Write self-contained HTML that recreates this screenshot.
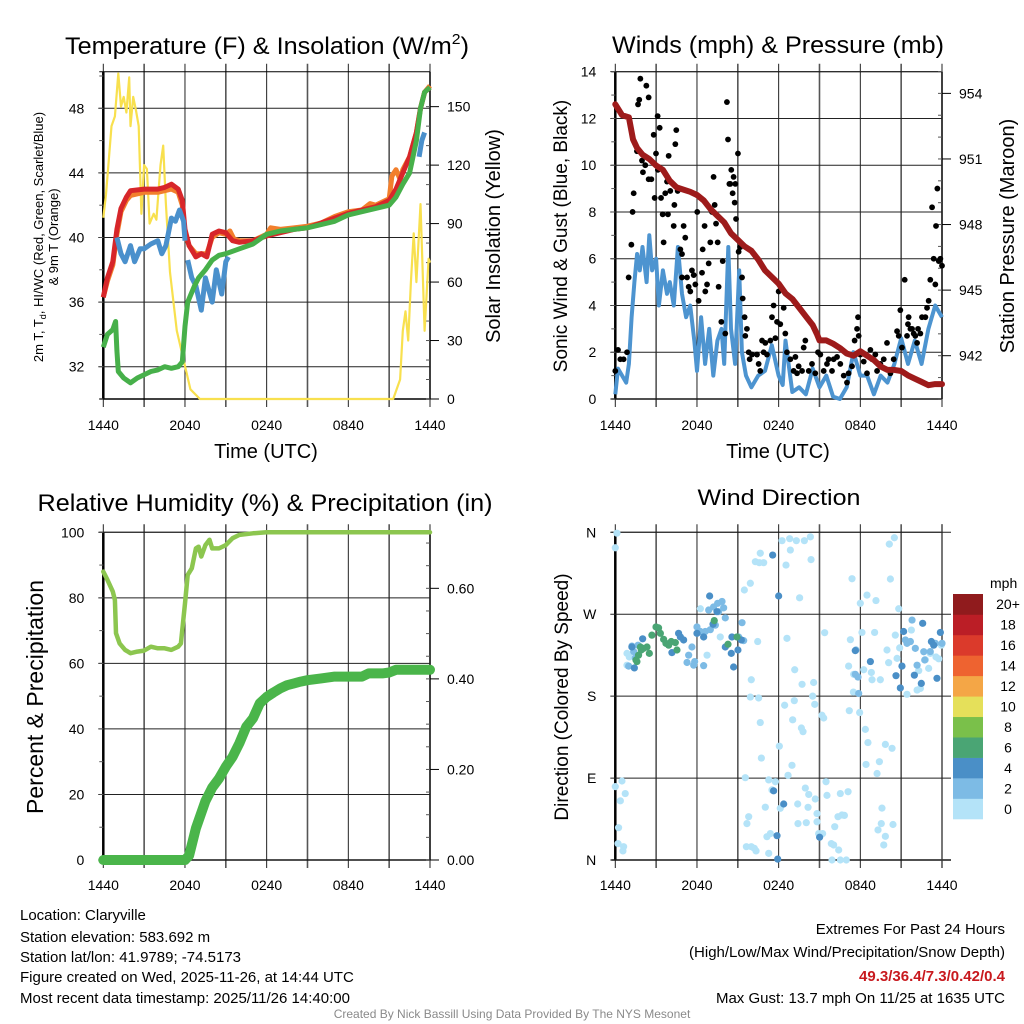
<!DOCTYPE html>
<html><head><meta charset="utf-8"><style>
html,body{margin:0;padding:0;background:#fff}
svg{display:block;font-family:"Liberation Sans",sans-serif}
</style></head><body>
<svg id="root" width="1024" height="1024" viewBox="0 0 1024 1024">
<rect width="1024" height="1024" fill="#fff"/>
<g id="g1"></g>
<g id="g2"></g>
<g id="g3"></g>
<g id="g4"></g>
<text x="267" y="54" font-size="24" text-anchor="middle" textLength="404" lengthAdjust="spacingAndGlyphs">Temperature (F) &amp; Insolation (W/m<tspan font-size="15" dy="-10">2</tspan><tspan dy="10">)</tspan></text>
<text x="778" y="53" font-size="24" text-anchor="middle" textLength="332" lengthAdjust="spacingAndGlyphs">Winds (mph) &amp; Pressure (mb)</text>
<text x="265" y="511" font-size="24" text-anchor="middle" textLength="455" lengthAdjust="spacingAndGlyphs">Relative Humidity (%) &amp; Precipitation (in)</text>
<text x="779" y="505" font-size="22" text-anchor="middle" textLength="163" lengthAdjust="spacingAndGlyphs">Wind Direction</text>
<g font-size="15">
<text x="20" y="920">Location: Claryville</text>
<text x="20" y="942">Station elevation: 583.692 m</text>
<text x="20" y="962">Station lat/lon: 41.9789; -74.5173</text>
<text x="20" y="982">Figure created on Wed, 2025-11-26, at 14:44 UTC</text>
<text x="20" y="1003">Most recent data timestamp: 2025/11/26 14:40:00</text>
</g>
<g font-size="15" text-anchor="end">
<text x="1005" y="934">Extremes For Past 24 Hours</text>
<text x="1005" y="957">(High/Low/Max Wind/Precipitation/Snow Depth)</text>
<text x="1005" y="981" font-weight="bold" fill="#c8191e">49.3/36.4/7.3/0.42/0.4</text>
<text x="1005" y="1003">Max Gust: 13.7 mph On 11/25 at 1635 UTC</text>
</g>
<text x="512" y="1018" font-size="12" fill="#8a8a8a" text-anchor="middle">Created By Nick Bassill Using Data Provided By The NYS Mesonet</text>
</svg>
<script>
// ---------- DATA ----------
const xTickLabels = ["1440","2040","0240","0840","1440"];
// Panel 1
const redH = [0,0.3,0.7,1,1.3,1.7,2,3,4,4.5,5,5.5,5.8,6,6.3,6.8,7.2,7.6,8,8.5,9,9.5,10,11,12,13,14,15,16,17,18,19,20,21,21.5,22,22.5,23,23.3,23.6,24];
const redT = [36.3,37.5,38.5,40.5,41.8,42.5,42.9,43.0,43.0,43.1,43.3,43.0,42.3,40.5,39.5,38.8,39.0,38.8,40.2,40.4,40.3,39.8,39.7,39.8,40.1,40.3,40.5,40.6,40.9,41.2,41.5,41.7,41.9,42.3,43.0,44.0,45.0,46.5,48.0,49.0,49.3];
const orangeH = [0,0.3,0.7,1,1.3,1.7,2,3,4,5,5.5,5.8,6,6.3,6.8,7.6,8,8.5,9,9.3,9.6,10,11,12,12.3,13,14,15,16,17,18,19,19.6,20,21,21.2,21.5,21.8,22,22.5,23,23.3,23.6,24];
const orangeT = [36.3,37.3,38.3,40.2,41.6,42.3,42.6,42.8,42.8,43.0,42.8,42.0,40.3,39.5,39.0,39.0,40.0,40.3,40.2,40.4,39.9,39.8,39.8,40.2,40.6,40.5,40.6,40.7,40.9,41.3,41.6,41.7,42.1,42.0,42.4,43.8,44.2,43.6,44.2,45.0,46.5,48.0,49.0,49.4];
const blueH = [1,1.3,1.6,2,2.3,2.7,3,3.5,4,4.3,4.6,5,5.3,5.6,5.9,6.0,null,6.2,6.5,6.8,7.2,7.5,8,8.3,8.7,9,9.2,null,23.2,23.4,23.6];
const blueT = [40.0,39.0,38.5,39.5,38.5,39.3,39.3,39.6,39.8,39.0,39.5,41.2,41.0,41.7,41.0,39.8,null,38.6,37.5,37.0,35.5,37.5,36.0,38.0,36.5,38.5,38.8,null,45.0,46.0,46.5];
const dewH = [0,0.3,0.7,0.9,1,1.1,1.5,2,2.5,3,3.5,4,4.5,5,5.5,5.8,6,6.2,6.7,7,7.5,8,8.5,9,10,11,12,13,14,15,16,17,18,19,20,21,21.5,22,22.5,23,23.3,23.6,24];
const dewT = [33.2,34.0,34.3,34.8,33.0,31.7,31.3,31.0,31.3,31.5,31.7,31.8,32.0,31.9,32.0,32.3,34.5,36.0,37.0,37.5,38.0,38.6,38.9,39.0,39.3,39.6,40.2,40.4,40.5,40.6,40.8,41.0,41.4,41.6,41.8,42.0,42.5,43.3,44.0,46.0,48.0,49.0,49.3];
const solH = [0,0.2,0.4,0.6,0.85,1.1,1.3,1.5,1.7,1.9,2.0,2.2,2.4,2.6,2.8,3.0,3.2,3.4,3.7,3.9,4.2,4.4,4.6,4.9,5.4,5.9,6.4,7.1,21.3,21.8,22.0,22.2,22.4,22.6,22.8,23.0,23.3,23.6,23.9,24];
const solV = [93,105,122,140,145,167,150,155,147,165,140,155,148,140,95,120,118,90,95,92,120,130,100,65,35,20,5,0,0,10,35,45,30,60,85,60,100,35,72,70];
// Panel 2
const windH = [0,0.2,0.5,0.8,1.0,1.2,1.4,1.6,1.8,2.0,2.3,2.5,2.7,3.0,3.2,3.5,3.8,4.0,4.3,4.6,4.9,5.2,5.5,5.8,6.0,6.3,6.6,6.9,7.2,7.5,7.8,8.0,8.3,8.5,8.8,9.1,9.3,9.6,10,10.5,11,11.5,12,12.3,12.5,13,13.5,14,14.5,15,15.5,16,16.5,17,17.5,18,18.5,19,19.5,20,20.5,21,21.5,22,22.5,23,23.5,24];
const windV = [0.2,1.3,1.0,0.7,1.5,3.5,5.0,6.2,5.5,6.5,5.0,7.0,5.5,6.0,4.0,5.5,4.5,5.0,4.0,6.5,4.5,3.5,4.0,2.5,1.2,3.5,1.5,3.0,1.0,2.5,3.0,1.5,6.5,3.0,1.5,5.5,2.0,1.0,0.5,1.0,1.2,2.3,1.0,0.6,2.5,0.3,0.5,0.2,1.3,0.5,1.0,0.1,0.0,0.5,2.0,1.0,1.0,0.2,1.0,0.7,1.5,2.6,1.5,2.5,1.5,3.0,4.0,3.5];
const gustH = [0,0.2,0.37,0.61,0.86,0.98,1.18,1.27,1.35,1.67,1.76,1.84,2.28,2.45,1.59,1.96,2.03,2.2,2.45,2.65,2.82,2.99,3.11,3.26,3.13,2.89,3.36,3.48,3.67,3.87,3.55,3.8,4.04,3.92,4.41,4.48,4.34,4.29,4.58,4.78,4.9,5.02,5.14,4.9,5.27,5.39,5.51,5.63,5.76,5.88,6.02,6.12,6.37,6.42,6.56,6.61,6.74,6.86,6.98,7.1,7.22,7.3,7.4,7.52,7.59,7.79,7.89,8.08,8.2,8.28,8.38,8.45,8.52,8.62,8.69,8.77,8.82,8.87,9.01,9.06,9.18,9.31,9.36,9.5,9.67,9.55,9.8,9.87,10.04,10.41,10.53,10.65,10.78,11.02,10.9,11.14,11.39,11.51,11.63,11.76,11.88,12.0,12.12,12.37,12.49,12.61,12.86,13.1,13.23,13.35,13.47,13.72,13.84,13.96,14.21,14.45,14.69,14.89,15.06,15.31,15.55,15.67,15.92,16.04,16.29,16.53,16.78,17.02,17.14,17.39,17.58,17.76,17.83,17.88,18.0,18.25,18.49,18.74,18.86,19.1,19.23,19.47,19.72,19.96,20.21,20.45,20.7,20.82,20.94,21.06,21.26,21.43,21.5,21.55,21.68,21.8,21.92,22.04,22.17,22.24,22.41,22.53,22.78,22.9,23.02,23.14,23.27,23.39,23.51,23.56,23.66,23.76,23.88,24.0];
const gustV = [1.2,2.1,1.7,1.7,2.0,5.2,6.6,8.0,8.8,12.6,12.8,13.7,13.4,12.9,10.6,10.2,9.7,10.0,9.4,9.4,11.3,10.5,12.1,11.6,9.8,8.6,8.6,7.9,8.8,7.9,6.7,9.3,8.9,10.4,10.9,11.5,8.3,7.4,8.9,6.4,6.2,7.4,6.9,5.2,5.2,4.8,4.6,5.5,5.3,4.9,8.0,4.2,5.4,6.4,7.4,4.6,4.9,5.8,6.7,8.0,9.5,8.3,7.5,6.7,4.8,3.3,5.9,2.8,12.7,11.1,9.2,9.2,9.8,8.8,9.5,8.4,9.2,7.7,10.5,6.3,6.5,5.2,4.3,3.5,3.0,2.7,2.0,1.7,1.9,1.9,1.5,1.2,2.5,2.4,2.0,1.9,2.5,3.5,4.0,2.6,3.3,4.6,3.2,3.9,2.8,2.0,1.7,1.2,1.8,1.1,1.4,1.2,2.2,2.5,1.2,1.5,1.1,2.0,1.9,1.2,1.5,1.7,1.2,1.7,1.8,1.5,1.0,0.7,1.1,1.4,2.5,3.0,3.5,2.7,1.9,1.6,1.1,2.1,1.7,1.9,1.2,1.5,1.7,2.4,1.1,1.7,2.9,2.7,3.8,2.2,5.1,2.7,3.2,3.5,3.0,3.0,2.8,2.7,2.4,3.0,2.8,3.5,3.5,3.9,4.2,5.1,8.2,6.0,4.9,7.4,9.0,5.9,6.0,5.7];
const presH = [0,0.5,1,1.3,1.6,2,2.5,3,3.5,4,4.5,5,5.5,6,6.5,7,7.5,8,8.5,9,9.5,10,10.5,11,11.5,12,12.5,13,13.5,14,14.5,14.8,15,15.5,16,16.5,17,17.5,18,18.5,19,19.5,20,20.5,21,21.5,22,22.5,23,23.5,24];
const presV = [953.5,953.0,952.9,951.9,951.5,951.2,951.0,950.7,950.5,950.0,949.7,949.6,949.5,949.35,949.1,948.7,948.4,948.1,947.6,947.3,947.0,946.8,946.4,945.9,945.6,945.3,944.85,944.6,944.2,943.8,943.4,943.0,942.7,942.7,942.55,942.35,942.1,942.0,942.2,942.0,941.8,941.5,941.35,941.35,941.3,941.1,940.95,940.8,940.65,940.7,940.7];
// Panel 3
const rhH = [0,0.3,0.7,0.85,0.93,1.2,1.6,2,2.5,3,3.5,4,4.5,5,5.5,5.7,6,6.2,6.5,6.8,7.0,7.2,7.5,7.8,8,8.5,9,9.5,10,11,12,24];
const rhV = [88,85.5,81.9,79.3,69.2,66.1,64.1,63.1,63.6,63.9,65.1,64.6,64.6,64.1,65.1,66.1,78.3,87.0,89,95.1,95.6,92.6,96.1,97.7,95.1,95.1,96.1,98.2,99.2,99.7,100,100];
const prH = [0,6,6.3,6.8,7.5,8,8.5,9,9.5,10,10.5,11,11.5,12,12.5,13,13.5,14,14.5,15,16,17,18,19,19.5,20.5,21,21.5,24];
const prV = [0,0,0.01,0.07,0.13,0.16,0.18,0.206,0.228,0.258,0.294,0.313,0.346,0.36,0.37,0.379,0.386,0.39,0.394,0.397,0.401,0.405,0.405,0.405,0.412,0.412,0.414,0.42,0.42];
// Panel 4
const dirH = [0.12,0,0,0.49,0.73,0.37,0.24,0.2,0.61,0.56,0.86,1.03,0.86,6.25,6.74,7.71,10.46,9.99,9.92,10.53,10.65,10.73,9.55,9.8,9.67,9.63,9.99,10.21,10.34,11.27,11.14,11.02,11.27,11.51,11.39,11.76,12.12,12.05,12.44,12.69,12.98,13.03,13.15,13.18,13.4,13.42,13.67,13.79,13.72,13.96,14.03,14.16,14.21,14.5,14.57,14.65,14.69,14.82,14.82,14.94,15.23,15.18,15.31,15.48,15.55,15.87,15.92,16.04,16.12,16.36,16.41,16.53,16.65,16.83,16.97,17.1,16.53,17.19,17.27,17.39,17.14,17.51,17.49,17.95,18.0,18.12,18.25,18.37,18.49,18.56,18.42,18.81,18.86,19.05,19.15,19.23,19.4,19.3,19.47,19.59,19.54,19.84,19.72,19.84,20.33,20.4,19.96,20.08,20.13,20.21,20.5,20.57,20.7,20.82,20.89,21.43,21.75,22.17,22.41,22.29,23.02,23.14,23.56,23.95,23.76,22.78,10.9,10.29,10.58,9.92,9.48,10.65,12.25,12.81,13.3,13.89,14.33,14.38,12.86,12.54,13.54,15.38,12.61,
1.22,1.35,0.98,1.47,1.67,5.63,5.83,6.49,5.39,5.27,5.76,6.61,6.86,6.98,7.22,7.52,7.84,7.96,8.08,7.59,6.0,6.25,7.35,9.31,9.06,9.43,17.68,17.63,17.83,17.88,21.31,21.43,21.68,22.04,22.17,22.73,23.14,23.51,24,22.66,21.8,
1.4,2.01,1.22,4.16,4.65,4.78,5.02,6.0,6.49,6.93,7.47,7.18,8.08,8.52,8.69,9.01,8.57,9.26,11.56,12.0,11.63,12.37,11.88,11.93,15.01,18.74,20.94,21.06,20.62,21.97,22.48,22.58,23.22,23.39,23.63,23.88,21.18,17.63,
1.59,1.71,1.91,2.08,2.33,2.5,2.69,2.99,3.18,3.31,3.55,3.72,3.92,4.11,4.41,4.53,1.52,1.84,7.27,8.28,8.94];
const dirDeg = [359,343,80.6,86.8,73,65,35.5,18,14.6,10,227,223,214,276,225,245,240,198,179,178,151,112,90.4,47.6,40,14.6,14.6,12.8,10,7.3,25.6,58,88,77,29,86,56.8,125,170,93,104,154,175,209,61.5,40,145,141,193,79,41,57.9,72,180,195,171,67,51,42,29,29,159,156,86,71,18,0,16.5,36.6,47.6,11,0,49.4,49,0,75,73,164,242,309,213,204,184.5,162,282,250,209,143.5,291,129,105,206,198,250,285,95,108,33,198,57,40,26,16.5,127,122.7,39,230.7,216.8,347,308.7,354,247,221.5,276,233,182,252.6,186.7,188.5,208,210.5,227,223,236,221,220,326.6,327.7,326.6,304,296.6,337,350.8,353,350.8,350.8,355,330,340.5,324,288,249.7,243.5,
235,229,213,222,236,234,218,213.5,225,217,214,251,274.6,253,278,282,284,277,266,272.8,256,251,258,260.7,245,241,230.7,204,201,183,241.7,238,240,232.5,214,219.7,229,238,238,228.8,263.6,
211,243,234,227.8,249,245,241.7,249,245,290,272.8,259,234,227,212,230.7,245,241.7,335,290,76,61.5,26.7,1,25,218,189,213,202.5,203,194,260,240,236,199.6,250,251,230,
218,225,230.7,232.5,234,227,247,256,255,249,242.4,238,236,240,238.8,230.7,219.7,234,263,237,245];
const dirSpd = [].concat(Array(143).fill(1),Array(41).fill(3),Array(38).fill(5),Array(21).fill(7));
const cbLabels = ["0","2","4","6","8","10","12","14","16","18","20+"];
const cbColors = ["#b4e3f8","#7dbbe5","#4a8fc7","#4aa574","#7ac04a","#e5e05a","#f4a646","#ee6330","#db3a2b","#bb1e26","#901b1d"];

// ---------- HELPERS ----------
const NS="http://www.w3.org/2000/svg";
function mk(parent,tag,attrs,text){const e=document.createElementNS(NS,tag);for(const k in attrs)e.setAttribute(k,attrs[k]);if(text!==undefined)e.textContent=text;parent.appendChild(e);return e;}
function linePath(hs,vs,xf,yf){let d="",pen=false;for(let i=0;i<hs.length;i++){if(hs[i]===null||vs[i]===null){pen=false;continue;}d+=(pen?"L":"M")+xf(hs[i]).toFixed(1)+","+yf(vs[i]).toFixed(1);pen=true;}return d;}
function frame(g,x0,x1,yT,yB,opts){
  // vertical grid every 3h
  for(let h=0;h<=24;h+=3){const x=x0+h/24*(x1-x0);const l=mk(g,"line",{x1:x,x2:x,y1:yT-8,y2:yB+8,stroke:(h%6===3)?"#555":"#222","stroke-width":(h%6===3)?1.6:1});
    
    }
  for(let i=0;i<5;i++){const x=x0+i*6/24*(x1-x0);const t=mk(g,"text",{x:x,y:opts.xly,"font-size":14,"text-anchor":"middle"},xTickLabels[i]);
    
    }
  mk(g,"line",{x1:x0,x2:x0,y1:yT,y2:yB,stroke:"#000","stroke-width":2.5});
  mk(g,"line",{x1:x0-4,x2:x1,y1:yT,y2:yT,stroke:"#000","stroke-width":1});
  mk(g,"line",{x1:x0-4,x2:x1+(opts.noRight?9:0),y1:yB,y2:yB,stroke:"#000","stroke-width":1.5});
  if(!opts.noRight) mk(g,"line",{x1:x1,x2:x1,y1:yT,y2:yB,stroke:"#000","stroke-width":1.5});
}
function leftAxis(g,x0,x1,vals,labels,yf,minors,grid){
  vals.forEach((v,i)=>{const y=yf(v);if(grid){const l=mk(g,"line",{x1:x0-5,x2:x1+(grid===2?9:0),y1:y,y2:y,stroke:"#222","stroke-width":1});
    
    }
    const t=mk(g,"text",{x:x0-19,y:y+5,"font-size":14,"text-anchor":"end"},labels[i]);
    
    });
  minors.forEach(v=>{const y=yf(v);mk(g,"line",{x1:x0-4,x2:x0,y1:y,y2:y,stroke:"#555","stroke-width":1});});
}
function rightAxis(g,x1,vals,labels,yf,minors){
  vals.forEach((v,i)=>{const y=yf(v);mk(g,"line",{x1:x1,x2:x1+9,y1:y,y2:y,stroke:"#000","stroke-width":1});
    const t=mk(g,"text",{x:x1+17,y:y+5,"font-size":14},labels[i]);
    
    });
  minors.forEach(v=>{const y=yf(v);mk(g,"line",{x1:x1,x2:x1-4,y1:y,y2:y,stroke:"#555","stroke-width":1});});
}
function rng(a,b,s){const r=[];for(let v=a;v<=b+1e-9;v+=s)r.push(+v.toFixed(3));return r;}

// ---------- PANEL 1 ----------
(function(){
  const g=document.getElementById("g1");const x0=103.3,x1=430,yT=71.7,yB=399;
  const xf=h=>x0+h/24*(x1-x0), yt=t=>366.7-(t-32)*16.15, ys=v=>399-v*1.949;
  frame(g,x0,x1,yT,yB,{xly:430});
  leftAxis(g,x0,x1,[32,36,40,44,48],["32","36","40","44","48"],yt,rng(30,50,2),true);
  rightAxis(g,x1,[0,30,60,90,120,150],["0","30","60","90","120","150"],ys,rng(0,160,10));
  const sol=mk(g,"path",{d:linePath(solH,solV,xf,ys),fill:"none",stroke:"#f8e04e","stroke-width":2.2,"stroke-linejoin":"round"});
  
  
  const o=mk(g,"path",{d:linePath(orangeH,orangeT,xf,yt),fill:"none",stroke:"#f27f2c","stroke-width":5,"stroke-linejoin":"round"});
  
  
  const r=mk(g,"path",{d:linePath(redH,redT,xf,yt),fill:"none",stroke:"#d7262a","stroke-width":5,"stroke-linejoin":"round"});
  
  
  const b=mk(g,"path",{d:linePath(blueH,blueT,xf,yt),fill:"none",stroke:"#4a90cc","stroke-width":5,"stroke-linejoin":"round"});
  
  
  const d=mk(g,"path",{d:linePath(dewH,dewT,xf,yt),fill:"none",stroke:"#47b04a","stroke-width":5,"stroke-linejoin":"round"});
  
  
  const t1=mk(g,"text",{x:0,y:0,"font-size":13,"text-anchor":"middle",transform:"translate(43,237) rotate(-90)"},"2m T, T");
  mk(t1,"tspan",{"font-size":9,dy:3},"d");
  mk(t1,"tspan",{dy:-3},", HI/WC (Red, Green, Scarlet/Blue)");
  
  
  const t2=mk(g,"text",{x:0,y:0,"font-size":13,"text-anchor":"middle",transform:"translate(58,237) rotate(-90)"},"& 9m T (Orange)");
  
  
  const t3=mk(g,"text",{x:0,y:0,"font-size":20,"text-anchor":"middle",transform:"translate(500,236) rotate(-90)"},"Solar Insolation (Yellow)");
  
  
  const t4=mk(g,"text",{x:266,y:458,"font-size":20,"text-anchor":"middle"},"Time (UTC)");
  
  
})();

// ---------- PANEL 2 ----------
(function(){
  const g=document.getElementById("g2");const x0=615.3,x1=942,yT=71.7,yB=399;
  const xf=h=>x0+h/24*(x1-x0), yw=v=>399-v*23.38, yp=p=>355.7-(p-942)*21.86;
  frame(g,x0,x1,yT,yB,{xly:430});
  leftAxis(g,x0,x1,[0,2,4,6,8,10,12,14],["0","2","4","6","8","10","12","14"],yw,rng(0,14,1),true);
  rightAxis(g,x1,[942,945,948,951,954],["942","945","948","951","954"],yp,rng(940,955,1));
  const w=mk(g,"path",{d:linePath(windH,windV,xf,yw),fill:"none",stroke:"#4d94d0","stroke-width":4,"stroke-linejoin":"round"});
  
  
  for(let i=0;i<gustH.length;i++){
    const c=mk(g,"circle",{cx:xf(gustH[i]),cy:yw(gustV[i]),r:2.9,fill:"#000"});
    
    
  }
  const p=mk(g,"path",{d:linePath(presH,presV,xf,yp),fill:"none",stroke:"#9e1b1b","stroke-width":6,"stroke-linejoin":"round","stroke-linecap":"round"});
  
  
  const t1=mk(g,"text",{x:0,y:0,"font-size":19,"text-anchor":"middle",transform:"translate(567,236) rotate(-90)"},"Sonic Wind & Gust (Blue, Black)");
  
  
  const t2=mk(g,"text",{x:0,y:0,"font-size":20,"text-anchor":"middle",transform:"translate(1014,236) rotate(-90)"},"Station Pressure (Maroon)");
  
  
  const t3=mk(g,"text",{x:778,y:458,"font-size":20,"text-anchor":"middle"},"Time (UTC)");
  
  
})();

// ---------- PANEL 3 ----------
(function(){
  const g=document.getElementById("g3");const x0=103.3,x1=430,yT=532.3,yB=860;
  const xf=h=>x0+h/24*(x1-x0), yr=v=>860-v*3.277, yq=v=>860-v*452.8;
  frame(g,x0,x1,yT,yB,{xly:890});
  leftAxis(g,x0,x1,[0,20,40,60,80,100],["0","20","40","60","80","100"],yr,rng(0,100,10),true);
  rightAxis(g,x1,[0,0.2,0.4,0.6],["0.00","0.20","0.40","0.60"],yq,rng(0,0.7,0.05));
  const rh=mk(g,"path",{d:linePath(rhH,rhV,xf,yr),fill:"none",stroke:"#8cc64f","stroke-width":4.5,"stroke-linejoin":"round","stroke-linecap":"round"});
  
  
  const pr=mk(g,"path",{d:linePath(prH,prV,xf,yq),fill:"none",stroke:"#4ab54a","stroke-width":10,"stroke-linejoin":"round","stroke-linecap":"round"});
  
  
  const t=mk(g,"text",{x:0,y:0,"font-size":23,"text-anchor":"middle",transform:"translate(43,697) rotate(-90)"},"Percent & Precipitation");
  
  
})();

// ---------- PANEL 4 ----------
(function(){
  const g=document.getElementById("g4");const x0=615.3,x1=942,yT=532.3,yB=860;
  const xf=h=>x0+h/24*(x1-x0), yd=d=>860-d*0.9103;
  frame(g,x0,x1,yT,yB,{xly:890,noRight:true});
  mk(g,"line",{x1:x1,x2:x1,y1:yT-8,y2:yB+8,stroke:"#555","stroke-width":1.6});
  leftAxis(g,x0,x1,[0,90,180,270,360],["N","E","S","W","N"],yd,[],2);
  const cols={1:"#b4e3f8",3:"#7dbbe5",5:"#4a8fc7",7:"#4aa574"};
  for(let i=0;i<dirH.length;i++){
    const c=mk(g,"circle",{cx:xf(dirH[i]),cy:yd(dirDeg[i]),r:3.6,fill:cols[dirSpd[i]]});
    
    
  }
  const t=mk(g,"text",{x:0,y:0,"font-size":19,"text-anchor":"middle",transform:"translate(568,697) rotate(-90)"},"Direction (Colored By Speed)");
  
  
  // colorbar
  const cb=mk(g,"g",{});
  
  
  const top=594,bot=819,h=(bot-top)/cbColors.length;
  for(let i=0;i<cbColors.length;i++){
    const y=bot-(i+1)*h;
    const r=mk(cb,"rect",{x:953,y:y,width:30,height:h+0.3,fill:cbColors[i]});
    
    
    const l=mk(cb,"text",{x:1008,y:y+h/2+5,"font-size":14,"text-anchor":"middle"},cbLabels[i]);
    
    
  }
  const u=mk(cb,"text",{x:990,y:588,"font-size":14},"mph");
  
  
})();
</script>
</body></html>
